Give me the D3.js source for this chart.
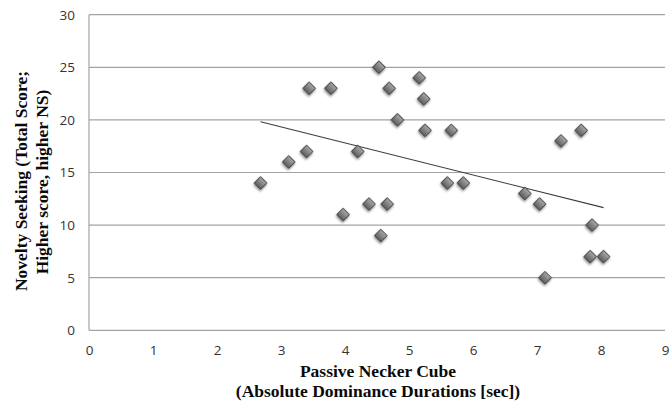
<!DOCTYPE html>
<html>
<head>
<meta charset="utf-8">
<script src="https://cdn.jsdelivr.net/npm/d3@7"></script>
<style>
  body { margin: 0; background: #fff; }
  .tick text { font-family: "Open Sans", sans-serif; font-size: 13.5px; fill: #333; }
  .axis-title { font-family: "Liberation Serif", "Times New Roman", serif; font-weight: bold; font-size: 17.5px; fill: #0a0a0a; }
</style>
</head>
<body>
<div id="chart"></div>
<script>
// durations (x) and novelty seeking scores (y)
var durations = [2.68, 3.12, 3.40, 3.44, 3.78, 3.97, 4.20, 4.375, 4.56, 4.53, 4.69, 4.66, 4.82, 5.16,
                 5.23, 5.25, 5.60, 5.66, 5.85, 6.81, 7.04, 7.125, 7.375, 7.69, 7.86, 7.83, 8.04];
var scores    = [14, 16, 17, 23, 23, 11, 17, 12, 9, 25, 23, 12, 20, 24,
                 22, 19, 14, 19, 14, 13, 12, 5, 18, 19, 10, 7, 7];
var xTicks = [0, 1, 2, 3, 4, 5, 6, 7, 8, 9];
var yTicks = [0, 5, 10, 15, 20, 25, 30];

var margin = { top: 14.7, right: 4, bottom: 73.7, left: 89 };
var width = 669 - margin.left - margin.right;
var height = 404 - margin.top - margin.bottom;

var svg = d3.select("#chart").append("svg")
    .attr("width", 669)
    .attr("height", 404);

var defs = svg.append("defs");
var grad = defs.append("linearGradient")
    .attr("id", "dgrad")
    .attr("x1", 0).attr("y1", 0).attr("x2", 0).attr("y2", 1);
grad.append("stop").attr("offset", "0%").attr("stop-color", "#a8a8a8");
grad.append("stop").attr("offset", "100%").attr("stop-color", "#5e5e5e");
var shadow = defs.append("filter").attr("id", "shadow")
    .attr("x", "-50%").attr("y", "-50%").attr("width", "200%").attr("height", "200%");
shadow.append("feDropShadow")
    .attr("dx", 0.8).attr("dy", 1.5).attr("stdDeviation", 1.2)
    .attr("flood-color", "#000").attr("flood-opacity", 0.45);

var g = svg.append("g")
    .attr("transform", "translate(" + margin.left + "," + margin.top + ")");

var x = d3.scaleLinear().domain([0, 9]).range([0, width]);
var y = d3.scaleLinear().domain([0, 30]).range([height, 0]);

// horizontal gridlines
g.selectAll(".grid")
    .data(yTicks)
    .enter().append("line")
    .attr("class", "grid")
    .attr("x1", 0).attr("x2", width)
    .attr("y1", function(d) { return y(d); })
    .attr("y2", function(d) { return y(d); })
    .attr("stroke", "#a3a3a3")
    .attr("stroke-width", 1.2);

g.append("line")
    .attr("x1", 0).attr("x2", 0)
    .attr("y1", 0).attr("y2", height)
    .attr("stroke", "#a3a3a3")
    .attr("stroke-width", 1.2);

var xAxis = d3.axisBottom(x).tickValues(xTicks).tickSize(0).tickPadding(15);
g.append("g")
    .attr("transform", "translate(0," + height + ")")
    .call(xAxis)
    .call(function(s) { s.select(".domain").remove(); });

var yAxis = d3.axisLeft(y).tickValues(yTicks).tickSize(0).tickPadding(14);
g.append("g")
    .call(yAxis)
    .call(function(s) { s.select(".domain").remove(); });

// linear trend line (least squares over the points)
var mx = d3.mean(durations), my = d3.mean(scores);
var sxy = d3.sum(durations, function(d, i) { return (d - mx) * (scores[i] - my); });
var sxx = d3.sum(durations, function(d) { return (d - mx) * (d - mx); });
var slope = sxy / sxx, intercept = my - slope * mx;
var xr = d3.extent(durations);

g.append("line")
    .attr("x1", x(xr[0])).attr("y1", y(intercept + slope * xr[0]))
    .attr("x2", x(xr[1])).attr("y2", y(intercept + slope * xr[1]))
    .attr("stroke", "#3c3c3c")
    .attr("stroke-width", 1.1);

var pts = durations.map(function(d, i) { return { x: d, y: scores[i] }; });
g.selectAll(".pt")
    .data(pts)
    .enter().append("path")
    .attr("class", "pt")
    .attr("d", d3.symbol().type(d3.symbolSquare).size(80))
    .attr("transform", function(d) {
        return "translate(" + x(d.x) + "," + y(d.y) + ") rotate(45)";
    })
    .attr("fill", "url(#dgrad)")
    .attr("stroke", "#454545")
    .attr("stroke-width", 0.9)
    .attr("filter", "url(#shadow)");

// axis titles
svg.append("text")
    .attr("class", "axis-title")
    .attr("text-anchor", "middle")
    .attr("x", 378).attr("y", 377)
    .text("Passive Necker Cube");
svg.append("text")
    .attr("class", "axis-title")
    .attr("text-anchor", "middle")
    .attr("x", 378).attr("y", 397)
    .text("(Absolute Dominance Durations [sec])");

svg.append("text")
    .attr("class", "axis-title")
    .attr("text-anchor", "middle")
    .attr("transform", "translate(27,181) rotate(-90)")
    .text("Novelty Seeking (Total Score;");
svg.append("text")
    .attr("class", "axis-title")
    .attr("text-anchor", "middle")
    .attr("transform", "translate(48,182) rotate(-90)")
    .text("Higher score, higher NS)");
</script>
</body>
</html>
